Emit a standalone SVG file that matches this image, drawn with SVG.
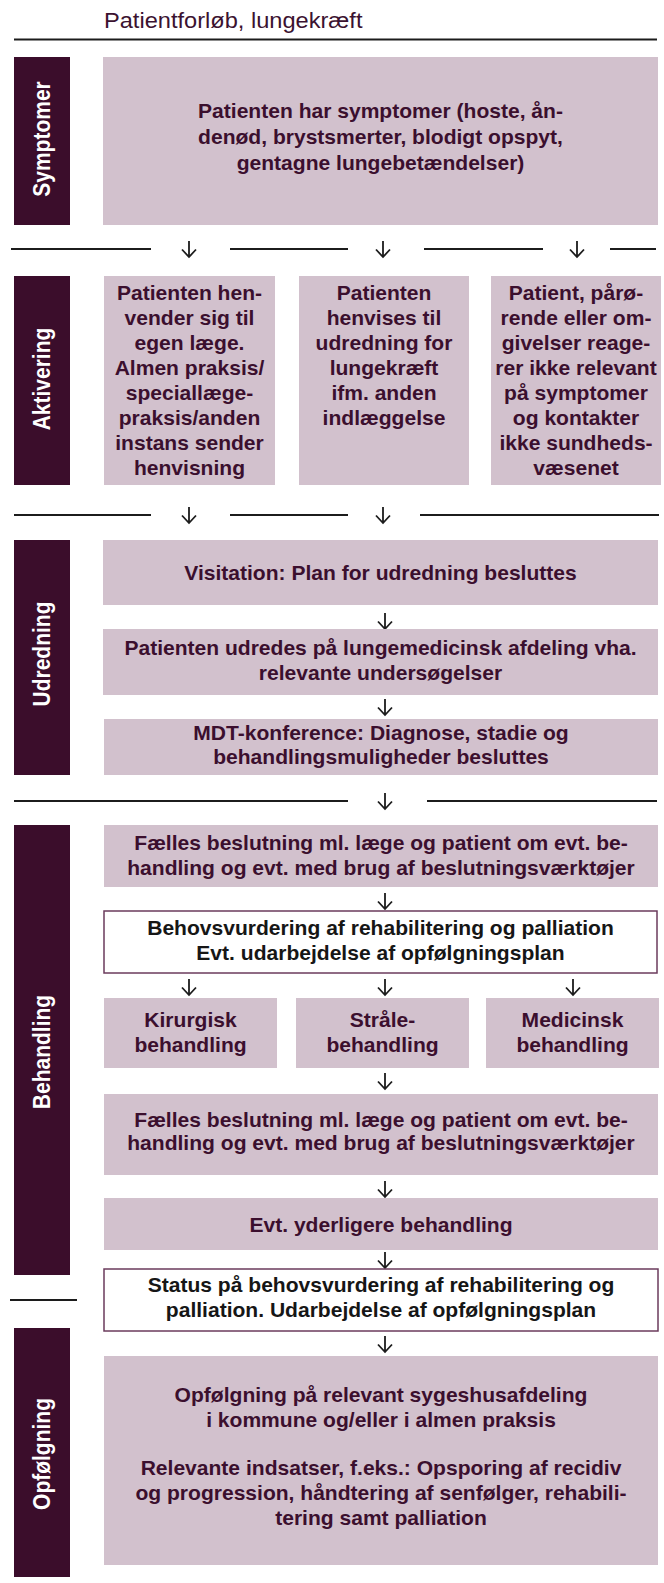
<svg xmlns="http://www.w3.org/2000/svg" xmlns:xlink="http://www.w3.org/1999/xlink" width="664" height="1583" viewBox="0 0 664 1583">
<style>
.bar{fill:#3b0d2b}
.box{fill:#d2c1cd}
.wbox{fill:#fff;stroke:#6b3b5c;stroke-width:1.5}
.t{font-family:"Liberation Sans",Arial,sans-serif;font-weight:bold;font-size:19.5px;fill:#3b0f2e;text-anchor:middle}
.tk{fill:#161616}
.lbl{font-family:"Liberation Sans",Arial,sans-serif;font-weight:bold;font-size:21px;fill:#fff;text-anchor:middle}
.title{font-family:"Liberation Sans",Arial,sans-serif;font-size:22.5px;fill:#3b1230}
.ln{stroke:#1c1c1c;stroke-width:2;fill:none}
.ar{stroke:#1c1c1c;stroke-width:1.8;fill:none}
</style>
<defs>
<path id="arw" class="ar" d="M0,0 V16 M-7,8.5 L0,16 L7,8.5"/>
</defs>
<text class="title" transform="translate(104,0) scale(1.05,1)" x="0" y="28">Patientforløb, lungekræft</text>
<g id="connectors">
<path class="ln" d="M14,39.5 H657"/>
<path class="ln" d="M11,249 H151 M230,249 H348 M424,249 H543 M610,249 H656"/>
<use href="#arw" x="189" y="241"/><use href="#arw" x="383" y="241"/><use href="#arw" x="577" y="241"/>
<path class="ln" d="M14,515 H151 M230,515 H348 M420,515 H659"/>
<use href="#arw" x="189" y="507"/><use href="#arw" x="383" y="507"/>
<use href="#arw" x="385" y="613"/>
<use href="#arw" x="385" y="699"/>
<path class="ln" d="M14,801 H348 M427,801 H657"/>
<use href="#arw" x="385" y="793"/>
<use href="#arw" x="385" y="893"/>
<use href="#arw" x="189" y="979"/><use href="#arw" x="385" y="979"/><use href="#arw" x="573" y="979"/>
<use href="#arw" x="385" y="1073"/>
<use href="#arw" x="385" y="1181"/>
<use href="#arw" x="385" y="1252"/>
<path class="ln" d="M10,1300 H77"/>
<use href="#arw" x="385" y="1336"/>
</g>
<g id="lane-symptomer">
<rect class="bar" x="14" y="57" width="56" height="168"/>
<text class="lbl" transform="translate(50,139) scale(1.1,1) rotate(-90)">Symptomer</text>
</g>
<g id="lane-aktivering">
<rect class="bar" x="14" y="276" width="56" height="209"/>
<text class="lbl" transform="translate(50,379) scale(1.1,1) rotate(-90)">Aktivering</text>
</g>
<g id="lane-udredning">
<rect class="bar" x="14" y="540" width="56" height="235"/>
<text class="lbl" transform="translate(50,654) scale(1.1,1) rotate(-90)">Udredning</text>
</g>
<g id="lane-behandling">
<rect class="bar" x="14" y="825" width="56" height="450"/>
<text class="lbl" transform="translate(50,1052) scale(1.1,1) rotate(-90)">Behandling</text>
</g>
<g id="lane-opfolgning">
<rect class="bar" x="14" y="1328" width="56" height="249"/>
<text class="lbl" transform="translate(50,1454) scale(1.1,1) rotate(-90)">Opfølgning</text>
</g>
<g id="n-symptomer">
<rect class="box" x="103" y="57" width="555" height="168"/>
<text class="t" transform="translate(380.5,0) scale(1.08,1)"><tspan x="0" y="118">Patienten har symptomer (hoste, ån-</tspan><tspan x="0" y="144">denød, brystsmerter, blodigt opspyt,</tspan><tspan x="0" y="170">gentagne lungebetændelser)</tspan></text>
</g>
<g id="n-akt1">
<rect class="box" x="104" y="276" width="171" height="209"/>
<text class="t" transform="translate(189.5,0) scale(1.08,1)"><tspan x="0" y="300">Patienten hen-</tspan><tspan x="0" y="325">vender sig til</tspan><tspan x="0" y="350">egen læge.</tspan><tspan x="0" y="375">Almen praksis/</tspan><tspan x="0" y="400">speciallæge-</tspan><tspan x="0" y="425">praksis/anden</tspan><tspan x="0" y="450">instans sender</tspan><tspan x="0" y="475">henvisning</tspan></text>
</g>
<g id="n-akt2">
<rect class="box" x="299" y="276" width="170" height="209"/>
<text class="t" transform="translate(384,0) scale(1.08,1)"><tspan x="0" y="300">Patienten</tspan><tspan x="0" y="325">henvises til</tspan><tspan x="0" y="350">udredning for</tspan><tspan x="0" y="375">lungekræft</tspan><tspan x="0" y="400">ifm. anden</tspan><tspan x="0" y="425">indlæggelse</tspan></text>
</g>
<g id="n-akt3">
<rect class="box" x="491" y="276" width="170" height="209"/>
<text class="t" transform="translate(576,0) scale(1.08,1)"><tspan x="0" y="300">Patient, pårø-</tspan><tspan x="0" y="325">rende eller om-</tspan><tspan x="0" y="350">givelser reage-</tspan><tspan x="0" y="375">rer ikke relevant</tspan><tspan x="0" y="400">på symptomer</tspan><tspan x="0" y="425">og kontakter</tspan><tspan x="0" y="450">ikke sundheds-</tspan><tspan x="0" y="475">væsenet</tspan></text>
</g>
<g id="n-visitation">
<rect class="box" x="103" y="540" width="555" height="65"/>
<text class="t" transform="translate(380.5,0) scale(1.08,1)"><tspan x="0" y="580">Visitation: Plan for udredning besluttes</tspan></text>
</g>
<g id="n-udredes">
<rect class="box" x="103" y="629" width="555" height="66"/>
<text class="t" transform="translate(380.5,0) scale(1.08,1)"><tspan x="0" y="655">Patienten udredes på lungemedicinsk afdeling vha.</tspan><tspan x="0" y="680">relevante undersøgelser</tspan></text>
</g>
<g id="n-mdt">
<rect class="box" x="104" y="719" width="554" height="56"/>
<text class="t" transform="translate(381,0) scale(1.08,1)"><tspan x="0" y="740">MDT-konference: Diagnose, stadie og</tspan><tspan x="0" y="764">behandlingsmuligheder besluttes</tspan></text>
</g>
<g id="n-faelles1">
<rect class="box" x="104" y="825" width="554" height="62"/>
<text class="t" transform="translate(381,0) scale(1.08,1)"><tspan x="0" y="850">Fælles beslutning ml. læge og patient om evt. be-</tspan><tspan x="0" y="875">handling og evt. med brug af beslutningsværktøjer</tspan></text>
</g>
<g id="n-behov">
<rect class="wbox" x="104" y="911" width="553" height="62"/>
<text class="t tk" transform="translate(380.5,0) scale(1.08,1)"><tspan x="0" y="935">Behovsvurdering af rehabilitering og palliation</tspan><tspan x="0" y="960">Evt. udarbejdelse af opfølgningsplan</tspan></text>
</g>
<g id="n-kirurgisk">
<rect class="box" x="104" y="998" width="173" height="70"/>
<text class="t" transform="translate(190.5,0) scale(1.08,1)"><tspan x="0" y="1027">Kirurgisk</tspan><tspan x="0" y="1052">behandling</tspan></text>
</g>
<g id="n-straale">
<rect class="box" x="296" y="998" width="173" height="70"/>
<text class="t" transform="translate(382.5,0) scale(1.08,1)"><tspan x="0" y="1027">Stråle-</tspan><tspan x="0" y="1052">behandling</tspan></text>
</g>
<g id="n-medicinsk">
<rect class="box" x="486" y="998" width="173" height="70"/>
<text class="t" transform="translate(572.5,0) scale(1.08,1)"><tspan x="0" y="1027">Medicinsk</tspan><tspan x="0" y="1052">behandling</tspan></text>
</g>
<g id="n-faelles2">
<rect class="box" x="104" y="1094" width="554" height="81"/>
<text class="t" transform="translate(381,0) scale(1.08,1)"><tspan x="0" y="1127">Fælles beslutning ml. læge og patient om evt. be-</tspan><tspan x="0" y="1150">handling og evt. med brug af beslutningsværktøjer</tspan></text>
</g>
<g id="n-yderligere">
<rect class="box" x="104" y="1198" width="554" height="52"/>
<text class="t" transform="translate(381,0) scale(1.08,1)"><tspan x="0" y="1232">Evt. yderligere behandling</tspan></text>
</g>
<g id="n-status">
<rect class="wbox" x="104" y="1269" width="554" height="62"/>
<text class="t tk" transform="translate(381,0) scale(1.08,1)"><tspan x="0" y="1292">Status på behovsvurdering af rehabilitering og</tspan><tspan x="0" y="1317">palliation. Udarbejdelse af opfølgningsplan</tspan></text>
</g>
<g id="n-opfolgning">
<rect class="box" x="104" y="1356" width="554" height="209"/>
<text class="t" transform="translate(381,0) scale(1.08,1)"><tspan x="0" y="1402">Opfølgning på relevant sygeshusafdeling</tspan><tspan x="0" y="1427">i kommune og/eller i almen praksis</tspan><tspan x="0" y="1475">Relevante indsatser, f.eks.: Opsporing af recidiv</tspan><tspan x="0" y="1500">og progression, håndtering af senfølger, rehabili-</tspan><tspan x="0" y="1525">tering samt palliation</tspan></text>
</g>
</svg>
